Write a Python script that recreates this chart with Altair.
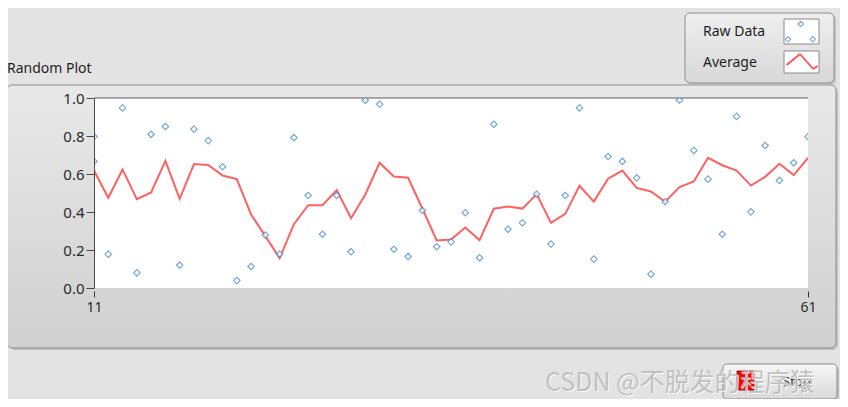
import altair as alt
import pandas as pd

# ---- data ----
start_index = 11
raw_data = [0.666, 0.178, 0.948, 0.080, 0.809, 0.850, 0.120, 0.836, 0.776, 0.638,
            0.039, 0.113, 0.278, 0.178, 0.791, 0.487, 0.283, 0.487, 0.191, 0.988,
            0.967, 0.204, 0.166, 0.408, 0.217, 0.243, 0.396, 0.159, 0.862, 0.309,
            0.343, 0.494, 0.231, 0.487, 0.948, 0.152, 0.692, 0.666, 0.580, 0.073,
            0.455, 0.988, 0.724, 0.573, 0.283, 0.903, 0.401, 0.750, 0.566, 0.659,
            0.797]
average = [0.618, 0.475, 0.624, 0.467, 0.503, 0.669, 0.469, 0.652, 0.648, 0.592,
           0.573, 0.387, 0.273, 0.157, 0.336, 0.436, 0.436, 0.515, 0.367, 0.492,
           0.659, 0.587, 0.580, 0.417, 0.250, 0.255, 0.318, 0.252, 0.417, 0.429,
           0.418, 0.494, 0.343, 0.390, 0.538, 0.455, 0.575, 0.618, 0.527, 0.508,
           0.454, 0.531, 0.561, 0.685, 0.646, 0.618, 0.539, 0.585, 0.654, 0.594,
           0.685]
extra_x = [11]
extra_y = [0.797]
x_ticks = [11, 61]
y_ticks = [0.0, 0.2, 0.4, 0.6, 0.8, 1.0]

samples = list(range(start_index, start_index + len(raw_data)))
df = pd.DataFrame({"x": samples, "raw": raw_data, "avg": average})
df_extra = pd.DataFrame({"x": extra_x, "raw": extra_y})

W, H = 714, 190
FONT = "Noto Sans"
BLUE = "#3f86cc"
RED = "#ff5050"

xs = alt.Scale(domain=[11, 61], nice=False, zero=False)
ys = alt.Scale(domain=[0, 1], nice=False)

x_axis = alt.Axis(values=x_ticks, title=None, domain=False, tickSize=6,
                  offset=3, labelPadding=3, grid=False, zindex=2,
                  labelFlush=False, labelOverlap=False,
                  tickColor="#333", labelColor="#2a2a2a", labelFont=FONT,
                  labelFontSize=14)
y_axis = alt.Axis(values=y_ticks, format=".1f", title=None, tickSize=8,
                  labelPadding=2, grid=False, zindex=2, domainColor="#4a4a4a",
                  labelFlush=False, labelOverlap=False,
                  tickColor="#4a4a4a", labelColor="#2a2a2a", labelFont=FONT,
                  labelFontSize=15)

one = alt.Data(values=[{}])


def grad(c1, c2):
    return alt.LinearGradient(gradient="linear", x1=0, x2=0, y1=0, y2=1,
                              stops=[alt.GradientStop(color=c1, offset=0),
                                     alt.GradientStop(color=c2, offset=1)])


def box(x1, x2, y1, y2, **kw):
    return alt.Chart(one).mark_rect(**kw).encode(
        x=alt.value(x1), x2=alt.value(x2), y=alt.value(y1), y2=alt.value(y2))


def txt(s, x, y, **kw):
    return alt.Chart(one).mark_text(text=s, **kw).encode(x=alt.value(x), y=alt.value(y))


def seg(x1, y1, x2, y2, **kw):
    return alt.Chart(one).mark_rule(**kw).encode(
        x=alt.value(x1), y=alt.value(y1), x2=alt.value(x2), y2=alt.value(y2))


def dot(x, y, **kw):
    return alt.Chart(one).mark_point(**kw).encode(x=alt.value(x), y=alt.value(y))


# panel
panel_shadow = box(-85, 744, -11, 252, color="#b4b4b4", cornerRadius=6, opacity=0.7)
panel = box(-87, 742, -13, 250, color=grad("#e9e9e9", "#d0d0d0"), cornerRadius=5,
            stroke="#8d8d8d", strokeWidth=1)
plot_bg = box(0, W, 0, H, color="white")
top_border = seg(0, 0, W, 0, color="#5a5a5a", strokeWidth=1.2)

title = txt("Random Plot", -87, -29, align="left", baseline="middle",
            font=FONT, fontSize=14, color="#1e1e1e")

line = alt.Chart(df).mark_line(color=RED, strokeWidth=2, opacity=0.9, clip=True).encode(
    x=alt.X("x:Q", scale=xs, axis=x_axis),
    y=alt.Y("avg:Q", scale=ys, axis=y_axis),
)

pts = alt.Chart(df).mark_point(shape="diamond", size=42, color=BLUE, fill="white",
                               filled=False, strokeWidth=1.2, clip=True).encode(
    x=alt.X("x:Q", scale=xs, axis=x_axis), y=alt.Y("raw:Q", scale=ys, axis=y_axis))
pts_extra = alt.Chart(df_extra).mark_point(shape="diamond", size=42, color=BLUE,
                                           strokeWidth=1.2, clip=True).encode(
    x=alt.X("x:Q", scale=xs, axis=x_axis), y=alt.Y("raw:Q", scale=ys, axis=y_axis))

# legend
leg_shadow = box(593, 742, -83, -13, color="#b8b8b8", cornerRadius=5, opacity=0.7)
leg_box = box(591, 740, -85, -15, color=grad("#efefef", "#d8d8d8"), cornerRadius=5,
              stroke="#8d8d8d", strokeWidth=1)
leg_t1 = txt("Raw Data", 609, -66, align="left", baseline="middle", font=FONT,
             fontSize=14, color="#1e1e1e")
leg_t2 = txt("Average", 609, -35, align="left", baseline="middle", font=FONT,
             fontSize=14, color="#1e1e1e")
sw1 = box(690, 725, -79, -54, color="white", stroke="#8a8a8a", strokeWidth=1)
sw2 = box(690, 725, -47, -25, color="white", stroke="#8a8a8a", strokeWidth=1)
dkw = dict(shape="diamond", size=30, color=BLUE, strokeWidth=1.1)
sw_d1 = dot(706.7, -74, **dkw)
sw_d2 = dot(694, -58.7, **dkw)
sw_d3 = dot(718.7, -58.7, **dkw)
lkw = dict(color=RED, strokeWidth=1.8)
sw_l1 = seg(692.7, -33, 706, -44, **lkw)
sw_l2 = seg(706, -44, 719.3, -29, **lkw)
sw_l3 = seg(719.3, -29, 723.5, -32, **lkw)

# stop button
btn_shadow = box(631, 745, 268, 303, color="#b0b0b0", cornerRadius=4, opacity=0.7)
btn = box(629, 743, 266, 301, color=grad("#f7f7f7", "#d9d9d9"), cornerRadius=4,
          stroke="#8a8a8a", strokeWidth=1)
red_sq = box(643, 660, 273, 292, color="#ff0000", stroke="#7a0000", strokeWidth=0.8)
stop_t = txt("Stop", 689, 284, align="left", baseline="middle", font=FONT,
             fontSize=13, color="#2a2a2a")

# watermark
wm_hi = txt("CSDN @不脱发的程序猿", 452, 286, align="left", baseline="middle",
            font="Noto Sans CJK SC", fontSize=25, color="#ffffff", opacity=0.8)
wm = txt("CSDN @不脱发的程序猿", 451, 285, align="left", baseline="middle",
         font="Noto Sans CJK SC", fontSize=25, color="#b9b9b9", opacity=0.85)

chart = alt.layer(
    panel_shadow, panel, plot_bg, top_border, line, pts, pts_extra, title,
    leg_shadow, leg_box, leg_t1, leg_t2, sw1, sw2, sw_d1, sw_d2, sw_d3,
    sw_l1, sw_l2, sw_l3,
    btn_shadow, btn, red_sq, stop_t, wm_hi, wm
).properties(
    width=W, height=H, autosize="none",
    padding={"left": 86, "top": 90, "right": 32, "bottom": 111},
    background="#e3e3e3",
).configure_view(stroke=None)

chart.save("out.html", embed_options={"renderer": "svg", "actions": False})
